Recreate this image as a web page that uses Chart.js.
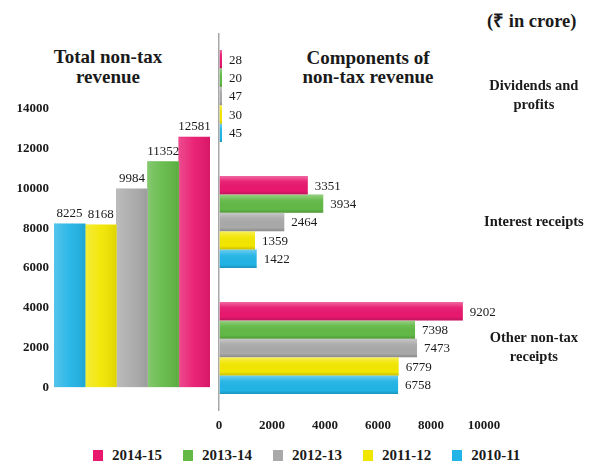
<!DOCTYPE html>
<html>
<head>
<meta charset="utf-8">
<script src="https://cdn.jsdelivr.net/npm/chart.js@4/dist/chart.umd.min.js"></script>
<style>
  body { margin:0; width:597px; height:465px; overflow:hidden; background:#fff; position:relative;
         font-family:"Liberation Serif", serif; color:#1a1a1a; }
  canvas { position:absolute; top:0; }
  .title { position:absolute; font-weight:bold; font-size:19px; line-height:20px; text-align:center; white-space:nowrap; }
  #legend { position:absolute; left:93px; top:447px; display:flex; gap:21px; font-weight:bold; font-size:15px; }
  #legend span.box { display:inline-block; width:10px; height:11px; margin-right:9px; vertical-align:-1px; }
</style>
</head>
<body>
<div class="title" style="left:38px;top:47px;width:140px">Total non-tax<br>revenue</div>
<div class="title" style="left:293px;top:48px;width:150px;line-height:19px">Components of<br>non-tax revenue</div>
<div class="title" style="left:487px;top:11px;font-size:18.5px">(₹ in crore)</div>
<canvas id="totalChart" width="215" height="400" style="left:0"></canvas>
<canvas id="partsChart" width="406" height="440" style="left:200px"></canvas>
<div id="legend"></div>

<script>
// ---------- Data ----------
const years = ['2014-15', '2013-14', '2012-13', '2011-12', '2010-11'];
const yearColors = ['#e8186f', '#62b946', '#a9a9a9', '#f2e600', '#22b4e6'];
const totalRevenue = [12581, 11352, 9984, 8168, 8225];
const components = [['Dividends and', 'profits'], 'Interest receipts', ['Other non-tax', 'receipts']];
const dividends = [28, 20, 47, 30, 45];
const interest = [3351, 3934, 2464, 1359, 1422];
const otherReceipts = [9202, 7398, 7473, 6779, 6758];
const totalTicks = [0, 2000, 4000, 6000, 8000, 10000, 12000, 14000];
const partTicks = [0, 2000, 4000, 6000, 8000, 10000];

const FONT = '"Liberation Serif", serif';
Chart.defaults.font.family = FONT;
Chart.defaults.color = '#1a1a1a';
Chart.defaults.animation = false;

const plainNumber = v => String(v);

// ---------- Plugins ----------
// shading over each bar to fake the bevelled look of the original
const bevel = {
  id: 'bevel',
  afterDatasetsDraw(chart) {
    const ctx = chart.ctx;
    const horiz = chart.options.indexAxis === 'y';
    chart.data.datasets.forEach((ds, i) => {
      chart.getDatasetMeta(i).data.forEach(bar => {
        const p = bar.getProps(['x', 'y', 'base', 'width', 'height']);
        let x0, y0, w, h, g;
        if (horiz) {
          x0 = Math.min(p.base, p.x); w = Math.abs(p.x - p.base); y0 = p.y - p.height / 2; h = p.height;
          g = ctx.createLinearGradient(0, y0, 0, y0 + h);
          g.addColorStop(0, 'rgba(255,255,255,0.35)');
          g.addColorStop(0.3, 'rgba(255,255,255,0.05)');
          g.addColorStop(0.8, 'rgba(0,0,0,0)');
          g.addColorStop(1, 'rgba(0,0,0,0.18)');
        } else {
          x0 = p.x - p.width / 2; w = p.width; y0 = Math.min(p.base, p.y); h = Math.abs(p.base - p.y);
          g = ctx.createLinearGradient(x0, 0, x0 + w, 0);
          g.addColorStop(0, 'rgba(255,255,255,0.22)');
          g.addColorStop(0.5, 'rgba(255,255,255,0.05)');
          g.addColorStop(1, 'rgba(0,0,0,0.08)');
        }
        ctx.save();
        ctx.fillStyle = g;
        ctx.fillRect(x0, y0, w, h);
        ctx.restore();
      });
    });
  }
};

// value labels next to the bars
const valueLabels = {
  id: 'valueLabels',
  afterDatasetsDraw(chart) {
    const ctx = chart.ctx;
    const horiz = chart.options.indexAxis === 'y';
    ctx.save();
    ctx.font = '13px ' + FONT;
    ctx.fillStyle = '#1a1a1a';
    chart.data.datasets.forEach((ds, i) => {
      chart.getDatasetMeta(i).data.forEach((bar, j) => {
        const txt = String(ds.data[j]);
        if (horiz) {
          ctx.textAlign = 'left'; ctx.textBaseline = 'middle';
          ctx.fillText(txt, bar.x + 7, bar.y + 1);
        } else {
          ctx.textAlign = 'center'; ctx.textBaseline = 'bottom';
          ctx.fillText(txt, bar.x, bar.y - 4);
        }
      });
    });
    ctx.restore();
  }
};

// ---------- Left: total non-tax revenue ----------
const leftOrder = [4, 3, 2, 1, 0];
new Chart(document.getElementById('totalChart'), {
  type: 'bar',
  data: {
    labels: [''],
    datasets: leftOrder.map(i => ({
      label: years[i], data: [totalRevenue[i]], backgroundColor: yearColors[i],
      barPercentage: 1, categoryPercentage: 1
    }))
  },
  options: {
    responsive: false,
    layout: { padding: { left: 6, top: 109, right: 5, bottom: 7 } },
    plugins: { legend: { display: false }, tooltip: { enabled: false } },
    scales: {
      x: { display: false },
      y: {
        min: 0, max: 14000,
        afterBuildTicks: ax => { ax.ticks = totalTicks.map(v => ({ value: v })); },
        afterFit: ax => { ax.width = 48; },
        grid: { display: false, drawTicks: false },
        border: { display: false },
        ticks: { padding: 5, callback: plainNumber, font: { size: 13, weight: 'bold' } }
      }
    }
  },
  plugins: [bevel, valueLabels]
});

// ---------- Right: components ----------
new Chart(document.getElementById('partsChart'), {
  type: 'bar',
  data: {
    labels: components,
    datasets: years.map((y, i) => ({
      label: y, data: [dividends[i], interest[i], otherReceipts[i]], backgroundColor: yearColors[i],
      barPercentage: 1, categoryPercentage: 0.73, minBarLength: 3
    }))
  },
  options: {
    indexAxis: 'y',
    responsive: false,
    layout: { padding: { left: 19, top: 33, right: 0, bottom: 0 } },
    plugins: { legend: { display: false }, tooltip: { enabled: false } },
    scales: {
      x: {
        min: 0, max: 10000,
        afterBuildTicks: ax => { ax.ticks = partTicks.map(v => ({ value: v })); },
        afterFit: ax => { ax.height = 29; },
        grid: { color: c => c.tick && c.tick.value === 0 ? '#a8a8a8' : 'rgba(0,0,0,0)', lineWidth: 1.5, drawTicks: false },
        border: { display: false },
        ticks: { padding: 7, maxRotation: 0, callback: plainNumber, font: { size: 13, weight: 'bold' } }
      },
      y: {
        position: 'right',
        afterFit: ax => { ax.width = 122; },
        grid: { display: false, drawTicks: false },
        border: { display: false },
        ticks: { crossAlign: 'center', padding: 0, font: { size: 14.5, weight: 'bold', lineHeight: 1.3 } }
      }
    }
  },
  plugins: [bevel, valueLabels]
});

// ---------- Legend ----------
const legend = document.getElementById('legend');
years.forEach((y, i) => {
  const item = document.createElement('div');
  item.innerHTML = '<span class="box" style="background:' + yearColors[i] + '"></span>' + y;
  legend.appendChild(item);
});
</script>
</body>
</html>
